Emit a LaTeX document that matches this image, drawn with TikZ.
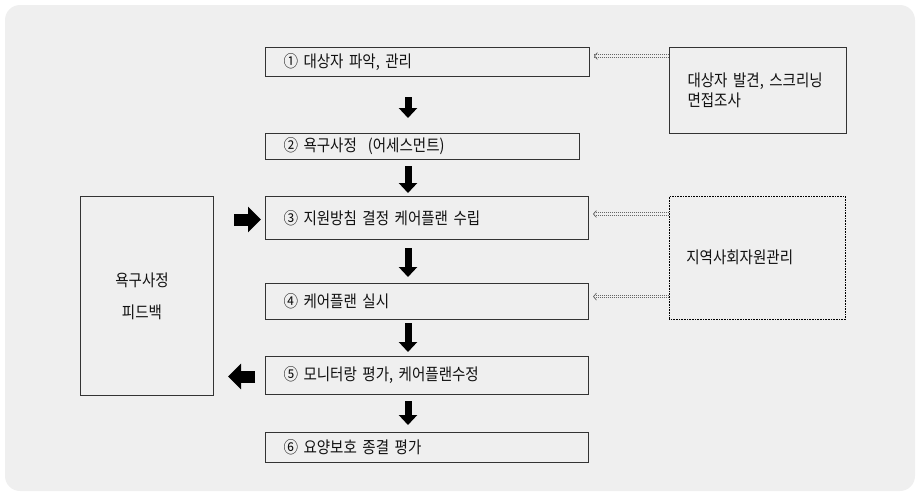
\documentclass[tikz,border=0pt]{standalone}
\usepackage{fontspec}
\newfontfamily\kr[FakeStretch=0.88]{Noto Sans CJK KR}
\usetikzlibrary{arrows.meta,decorations.markings}
\definecolor{bgc}{HTML}{EFEFEF}
\definecolor{ink}{HTML}{111111}
\definecolor{edge}{HTML}{333333}
\tikzset{
  stepbox/.style={draw=edge, line width=1pt, anchor=north west, inner xsep=18pt, inner ysep=0pt,
    align=left, text=ink, font=\kr\fontsize{16.5}{18}\selectfont},
  sidebox/.style={draw=edge, line width=1pt, anchor=north west, inner xsep=0pt, inner ysep=0pt,
    text=ink, font=\kr\fontsize{16.5}{21}\selectfont},
  dotbox/.style={draw=black, densely dotted, line width=0.6pt, anchor=north west, inner xsep=17pt, inner ysep=0pt,
    align=left, text=ink, font=\kr\fontsize{16.5}{18}\selectfont},
  fatdown/.style={draw=black, line width=7pt, -{Triangle[width=18pt,length=10pt]}},
  fatside/.style={draw=black, line width=12pt, -{Triangle[width=25pt,length=13pt]}},
  dotline/.style={draw=black!60, dash pattern=on 1pt off 1pt, line width=0.8pt},
  dotarrow/.style={
    preaction={dotline, transform canvas={yshift=1.2pt}},
    preaction={dotline, transform canvas={yshift=-1.2pt}},
    postaction={decorate, decoration={markings,
      mark=at position 1 with {\arrow[black!60, line width=0.7pt]{Straight Barb[length=3pt,width=7pt]}}}}},
}
\begin{document}
\begin{tikzpicture}[x=1pt,y=-1pt]
\useasboundingbox (0,0) rectangle (916,493);
\fill[bgc, rounded corners=15pt] (5,5) rectangle (915,491);

% main flow boxes
\node[stepbox, text width=288pt, minimum height=29pt] (b1) at (265,47) {① 대상자 파악, 관리};
\node[stepbox, text width=278pt, minimum height=26pt] (b2) at (265,133) {② 욕구사정 \ (어세스먼트)};
\node[stepbox, text width=287pt, minimum height=43pt] (b3) at (265,196) {③ 지원방침 결정 케어플랜 수립};
\node[stepbox, text width=287pt, minimum height=36pt] (b4) at (265,283) {④ 케어플랜 실시};
\node[stepbox, text width=287pt, minimum height=38pt] (b5) at (265,356) {⑤ 모니터랑 평가, 케어플랜수정};
\node[stepbox, text width=287pt, minimum height=30pt] (b6) at (265,432) {⑥ 요양보호 종결 평가};

% side boxes
\node[sidebox, align=center, minimum width=133pt, minimum height=199pt, font=\kr\fontsize{16.5}{32}\selectfont] (lb) at (80,196) {욕구사정\hspace*{10pt}\\피드백\hspace*{10pt}};
\node[sidebox, align=left, text width=177pt, minimum height=86pt] (rb) at (669,47) {\hspace*{18pt}대상자 발견, 스크리닝\\[-1pt]\hspace*{18pt}면접조사};
\node[dotbox, text width=142pt, minimum height=123pt] (db) at (669,196) {지역사회자원관리};

% down arrows
\coordinate (ax) at (408,0);
\draw[fatdown, shorten <=20pt, shorten >=15pt] (b1.south -| ax) -- (b2.north -| ax);
\draw[fatdown, shorten <=6pt, shorten >=3pt] (b2.south -| ax) -- (b3.north -| ax);
\draw[fatdown, shorten <=8pt, shorten >=6pt] (b3.south -| ax) -- (b4.north -| ax);
\draw[fatdown, shorten <=3pt, shorten >=4pt] (b4.south -| ax) -- (b5.north -| ax);
\draw[fatdown, shorten <=6pt, shorten >=7pt] (b5.south -| ax) -- (b6.north -| ax);

% side fat arrows
\draw[fatside, shorten <=20pt, shorten >=4pt] ([yshift=-1.5pt]lb.east |- b3.west) -- ([yshift=-1.5pt]b3.west);
\draw[fatside, shorten <=10pt, shorten >=14pt] ([yshift=-1pt]b5.west) -- ([yshift=-1pt]b5.west -| lb.east);

% dotted arrows
\coordinate (d1s) at ([yshift=-9pt]rb.north west);
\coordinate (d1e) at ([xshift=4pt]d1s -| b1.east);
\coordinate (d3s) at ([yshift=-18pt]db.north west);
\coordinate (d3e) at ([xshift=4pt]d3s -| b3.east);
\coordinate (d4s) at ([yshift=23pt]db.south west);
\coordinate (d4e) at ([xshift=4pt]d4s -| b4.east);
\path[dotarrow] (d1s) -- (d1e);
\path[dotarrow] (d3s) -- (d3e);
\path[dotarrow] (d4s) -- (d4e);
\end{tikzpicture}
\end{document}
